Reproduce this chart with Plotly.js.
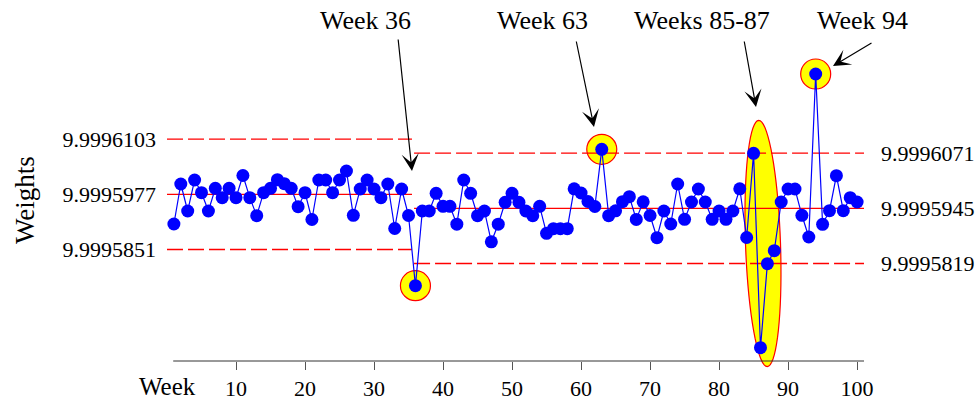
<!DOCTYPE html>
<html>
<head>
<meta charset="utf-8">
<script src="https://cdn.plot.ly/plotly-3.0.1.min.js"></script>
<style>html,body{margin:0;padding:0;background:#fff}#chart{width:976px;height:402px}</style>
</head>
<body>
<div id="chart"></div>
<script>
// ---- data ----
const weeks = [1,2,3,4,5,6,7,8,9,10,11,12,13,14,15,16,17,18,19,20,21,22,23,24,25,26,27,28,29,30,31,32,33,34,35,36,37,38,39,40,41,42,43,44,45,46,47,48,49,50,51,52,53,54,55,56,57,58,59,60,61,62,63,64,65,66,67,68,69,70,71,72,73,74,75,76,77,78,79,80,81,82,83,84,85,86,87,88,89,90,91,92,93,94,95,96,97,98,99,100];
const weights = [
  9.99959092, 9.99960005, 9.99959389, 9.99960096, 9.99959807, 9.99959389, 9.99959907, 9.99959694, 9.99959907, 9.99959694,
  9.99960199, 9.99959694, 9.99959282, 9.99959807, 9.99959907, 9.99960103, 9.99960012, 9.99959907, 9.99959487, 9.99959807,
  9.99959195, 9.99960096, 9.99960096, 9.99959807, 9.99960096, 9.99960302, 9.99959291, 9.99959891, 9.99960096, 9.99959891,
  9.99959694, 9.99960005, 9.99958989, 9.99959891, 9.99959286, 9.99957684, 9.99959389, 9.99959389, 9.99959793, 9.99959496,
  9.99959496, 9.99959088, 9.99960096, 9.99959793, 9.99959282, 9.99959389, 9.99958686, 9.99959088, 9.99959587, 9.99959793,
  9.99959587, 9.99959389, 9.99959282, 9.99959496, 9.99958880, 9.99958985, 9.99958985, 9.99958985, 9.99959896, 9.99959800,
  9.99959606, 9.99959492, 9.99960797, 9.99959282, 9.99959393, 9.99959601, 9.99959715, 9.99959197, 9.99959599, 9.99959286,
  9.99958779, 9.99959389, 9.99959092, 9.99960005, 9.99959199, 9.99959594, 9.99959891, 9.99959594, 9.99959199, 9.99959389,
  9.99959199, 9.99959389, 9.99959896, 9.99958784, 9.99960706, 9.99956269, 9.99958186, 9.99958483, 9.99959594, 9.99959891,
  9.99959891, 9.99959291, 9.99958795, 9.99962516, 9.99959085, 9.99959396, 9.99960195, 9.99959396, 9.99959694, 9.99959594
];
// control limits for the two phases
const phaseStart  = [0, 35.8];
const phaseEnd    = [35.5, 101];
const centerLines = [9.9995977, 9.9995945];
const upperLimits = [9.9996103, 9.9996071];
const lowerLimits = [9.9995851, 9.9995819];
const leftTickText  = ['9.9995851', '9.9995977', '9.9996103'];
const rightTickText = ['9.9995819', '9.9995945', '9.9996071'];
const xTickVals = [10,20,30,40,50,60,70,80,90,100];
const xTickText = ['10','20','30','40','50','60','70','80','90','100'];
const highlightWeeks = [36, 63, 94];
const groupWeeks = [85, 86, 87];
const calloutText = ['Week 36', 'Week 63', 'Weeks 85-87', 'Week 94'];

// ---- layout geometry ----
const W = 976, H = 402;
const mL = 167, mR = 112, mT = 0, mB = 41;
const plotW = W - mL - mR, plotH = H - mT - mB;
const xRange = [0, 101];
const yRange = [9.99955965, 9.99964205];
const FONT = '"Liberation Serif", "DejaVu Serif", serif';

function xToPx(x){ return mL + (x - xRange[0]) / (xRange[1]-xRange[0]) * plotW; }
function yToPx(y){ return mT + (yRange[1] - y) / (yRange[1]-yRange[0]) * plotH; }
function pxToPaperX(px){ return (px - mL) / plotW; }
function pxToPaperY(py){ return (mT + plotH - py) / plotH; }

const traces = [];
const red = '#ff0000';
for (let p = 0; p < 2; p++) {
  traces.push({x:[phaseStart[p], phaseEnd[p]], y:[upperLimits[p], upperLimits[p]], mode:'lines',
    line:{color:red, width:1.3, dash:'16px,5px'}, hoverinfo:'skip', showlegend:false});
  traces.push({x:[phaseStart[p], phaseEnd[p]], y:[centerLines[p], centerLines[p]], mode:'lines',
    line:{color:red, width:1.3}, hoverinfo:'skip', showlegend:false});
  traces.push({x:[phaseStart[p], phaseEnd[p]], y:[lowerLimits[p], lowerLimits[p]], mode:'lines',
    line:{color:red, width:1.3, dash:'16px,5px'}, hoverinfo:'skip', showlegend:false});
}
traces.push({x:weeks, y:weights, mode:'lines+markers', line:{color:'#0000ff', width:1.2},
  marker:{color:'#0000ff', size:13}, showlegend:false});
// invisible trace to keep right axis alive
traces.push({x:[xRange[0]], y:[centerLines[1]], yaxis:'y2', mode:'lines', line:{width:0}, hoverinfo:'skip', showlegend:false});

const shapes = [];
// yellow circles around single out-of-control points
highlightWeeks.forEach(w => {
  const yv = weights[weeks.indexOf(w)];
  shapes.push({type:'circle', layer:'below', xref:'x', yref:'y', xsizemode:'pixel', ysizemode:'pixel',
    xanchor:w, yanchor:yv, x0:-15, x1:15, y0:-15, y1:15,
    fillcolor:'#ffff00', line:{color:red, width:1.2}});
});
// tilted ellipse around weeks 85-87 (drawn in paper coords so it may pass below the axis)
(function(){
  const gy = groupWeeks.map(w => weights[weeks.indexOf(w)]);
  const cxPx = xToPx(groupWeeks[1]) + 2.5;
  const topPx = yToPx(Math.max(...gy)) - 33;
  const botPx = yToPx(Math.min(...gy)) + 19;
  const cyPx = (topPx + botPx) / 2;
  const a = (botPx - topPx) / 2, b = 17.5, ang = -2 * Math.PI / 180;
  let d = '';
  for (let k = 0; k <= 72; k++) {
    const t = k / 72 * 2 * Math.PI;
    const ex = b * Math.cos(t), ey = a * Math.sin(t);
    const px = cxPx + ex * Math.cos(ang) - ey * Math.sin(ang);
    const py = cyPx + ex * Math.sin(ang) + ey * Math.cos(ang);
    d += (k === 0 ? 'M' : 'L') + pxToPaperX(px).toFixed(5) + ',' + pxToPaperY(py).toFixed(5);
  }
  d += 'Z';
  shapes.push({type:'path', layer:'below', xref:'paper', yref:'paper', path:d,
    fillcolor:'#ffff00', line:{color:red, width:1.2}});
})();
// x axis line
shapes.push({type:'line', xref:'x', yref:'paper', x0:0.9, x1:xRange[1], y0:0, y1:0, line:{color:'#333', width:1}});

// callouts: label positions (px) and arrow tips near highlighted marks
const calloutLabelPx = [[365, 20], [542, 20], [702, 20], [862, 20]];
const arrowStartPx = [[398, 38], [576, 40], [744, 40], [873, 42]];
const arrowTipPx = [[412, 171], [594, 127], [756, 107], [833, 66]];
const annotations = [];
calloutText.forEach((t, i) => {
  annotations.push({xref:'paper', yref:'paper', x:pxToPaperX(calloutLabelPx[i][0]), y:pxToPaperY(calloutLabelPx[i][1]),
    text:t, showarrow:false, xanchor:'center', yanchor:'middle', font:{family:FONT, size:26, color:'#000'}});
  annotations.push({xref:'paper', yref:'paper', x:pxToPaperX(arrowTipPx[i][0]), y:pxToPaperY(arrowTipPx[i][1]),
    axref:'pixel', ayref:'pixel', ax:arrowStartPx[i][0]-arrowTipPx[i][0], ay:arrowStartPx[i][1]-arrowTipPx[i][1],
    text:'', showarrow:true, arrowhead:3, arrowsize:2.4, arrowwidth:1.2, arrowcolor:'#000', standoff:0, startstandoff:0});
});
annotations.push({xref:'x', yref:'paper', x:0, y:pxToPaperY(386), text:'Week', showarrow:false,
  xanchor:'center', yanchor:'middle', font:{family:FONT, size:25, color:'#000'}});
annotations.push({xref:'paper', yref:'paper', x:pxToPaperX(25), y:pxToPaperY(200), text:'Weights', textangle:-90,
  showarrow:false, xanchor:'center', yanchor:'middle', font:{family:FONT, size:27, color:'#000'}});

const layout = {
  width:W, height:H, margin:{l:mL, r:mR, t:mT, b:mB, pad:0},
  paper_bgcolor:'#fff', plot_bgcolor:'#fff', showlegend:false,
  font:{family:FONT, size:22, color:'#000'},
  xaxis:{range:xRange, tickvals:xTickVals, ticktext:xTickText, ticks:'outside', ticklen:8, tickwidth:1, tickcolor:'#555',
    showline:false, showgrid:false, zeroline:false, tickfont:{family:FONT, size:22, color:'#000'}},
  yaxis:{range:yRange, tickvals:[lowerLimits[0], centerLines[0], upperLimits[0]], ticktext:leftTickText,
    ticks:'', showline:false, showgrid:false, zeroline:false, ticklabelstandoff:10,
    tickfont:{family:FONT, size:22, color:'#000'}},
  yaxis2:{range:yRange, overlaying:'y', side:'right', tickvals:[lowerLimits[1], centerLines[1], upperLimits[1]], ticktext:rightTickText,
    ticks:'', showline:false, showgrid:false, zeroline:false, ticklabelstandoff:16,
    tickfont:{family:FONT, size:22, color:'#000'}},
  shapes:shapes, annotations:annotations
};
Plotly.newPlot('chart', traces, layout, {displayModeBar:false, staticPlot:true});
</script>
</body>
</html>
